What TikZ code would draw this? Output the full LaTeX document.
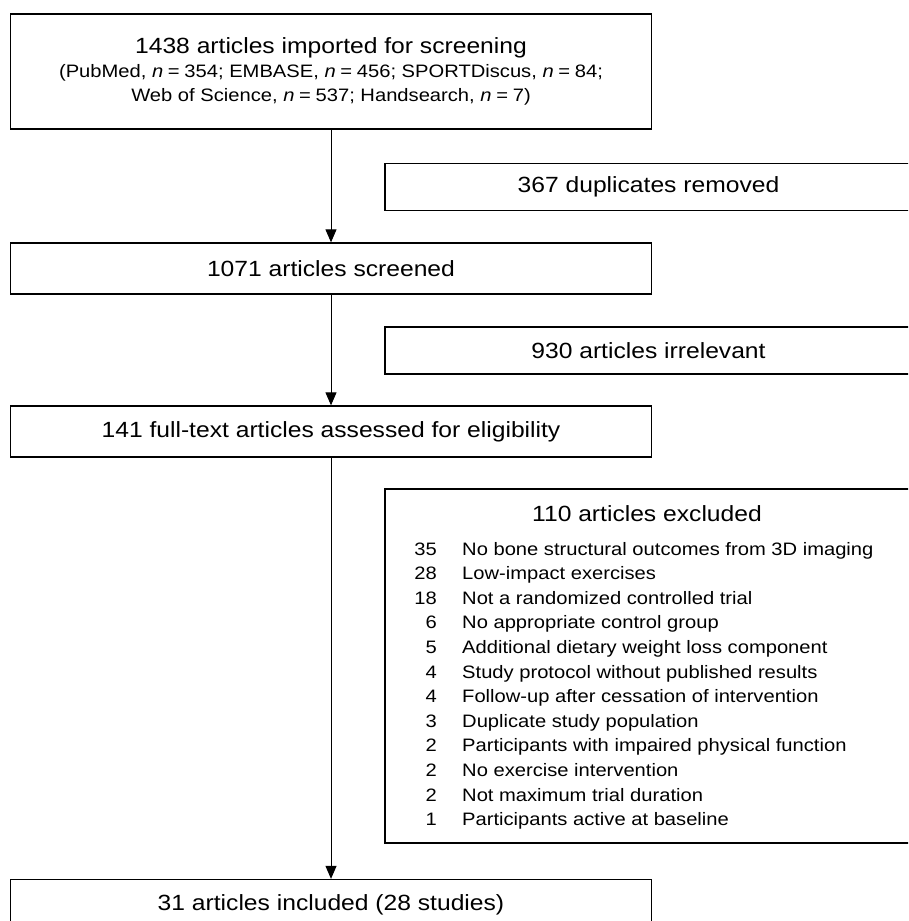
\documentclass[tikz,border=0pt]{standalone}
\usepackage{fontspec}
\setmainfont{Liberation Sans}[FakeStretch=1.12]
\usetikzlibrary{arrows.meta}

\newcommand{\nsize}[1]{\textit{n}\hspace{4.7pt}=\hspace{4.7pt}#1}

\tikzset{
  mainbox/.style={draw, line width=1.3pt, minimum width=641pt, minimum height=51pt,
    inner sep=0pt, font=\fontsize{22}{26}\selectfont},
  sidebox/.style={draw, line width=1.3pt, minimum width=527pt, minimum height=47pt,
    inner sep=0pt, font=\fontsize{22}{26}\selectfont},
  listtext/.style={inner sep=0pt, font=\fontsize{18}{22}\selectfont},
  flow/.style={line width=1pt, -{Triangle[length=13pt,width=11pt]}}
}

\begin{document}
\begin{tikzpicture}[x=1pt, y=-1pt]
      \clip (0,0) rectangle (908,921);
      % main column
      \node[mainbox, minimum height=115pt, align=center, font=\fontsize{18}{24}\selectfont] (import) at (331,71.5)
        {{\fontsize{22}{24}\selectfont 1438 articles imported for screening}\\
         (PubMed, \nsize{354}; EMBASE, \nsize{456}; SPORTDiscus, \nsize{84};\\
         Web of Science, \nsize{537}; Handsearch, \nsize{7})};
      \node[mainbox] (screen) at (331,268.5) {1071 articles screened};
      \node[mainbox] (full) at (331,431.5) {141 full-text articles assessed for eligibility};
      \node[mainbox] (incl) at (331,905) {31 articles included (28 studies)};
      % side boxes
      \node[sidebox] (dupl) at (648.5,187) {367 duplicates removed};
      \node[sidebox] (irrel) at (648.5,350.5) {930 articles irrelevant};
      \node[sidebox, minimum height=354pt] (excl) at (648.5,666) {};
      \node[anchor=base, inner sep=0pt, font=\fontsize{22}{26}\selectfont] (excltitle) at (647,521) {110 articles excluded};
      \foreach \i/\n/\why in {0/35/No bone structural outcomes from 3D imaging,
          1/28/Low-impact exercises,
          2/18/Not a randomized controlled trial,
          3/6/No appropriate control group,
          4/5/Additional dietary weight loss component,
          5/4/Study protocol without published results,
          6/4/Follow-up after cessation of intervention,
          7/3/Duplicate study population,
          8/2/Participants with impaired physical function,
          9/2/No exercise intervention,
          10/2/Not maximum trial duration,
          11/1/Participants active at baseline} {
        \node[listtext, anchor=base east] (num\i) at (437,555+24.6*\i) {\n};
        \node[listtext, anchor=base west] (why\i) at (462,555+24.6*\i) {\why};
      }
      \draw[flow] (import) -- (screen);
      \draw[flow] (screen) -- (full);
      \draw[flow] (full) -- (incl);
    \end{tikzpicture}
\end{document}
